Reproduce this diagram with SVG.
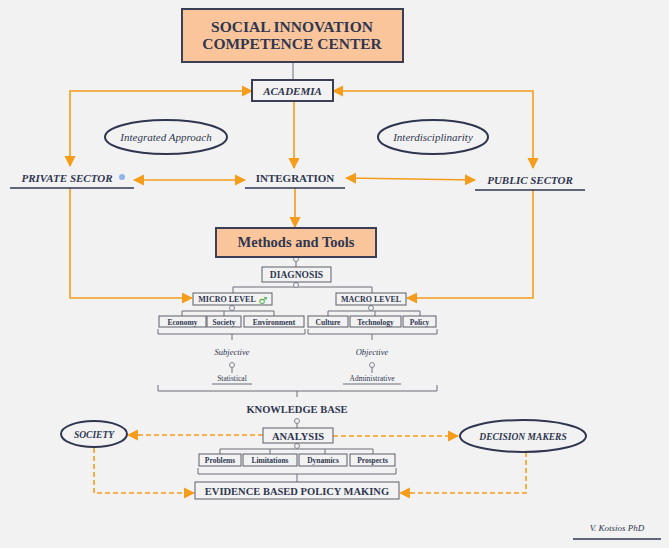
<svg xmlns="http://www.w3.org/2000/svg" width="669" height="548" viewBox="0 0 669 548">
<defs>
<marker id="a" viewBox="0 0 10 10" refX="9" refY="5" markerWidth="7" markerHeight="7" orient="auto-start-reverse"><path d="M0,0L10,5L0,10z" fill="#f59c1a"/></marker>
<style>
text{font-family:"Liberation Serif",serif;fill:#2f3650;text-anchor:middle}
.b{font-weight:bold}.i{font-style:italic}
.o{stroke:#f59c1a;stroke-width:1.6;fill:none}
.d{stroke:#f59c1a;stroke-width:1.6;fill:none;stroke-dasharray:5,3}
.g{stroke:#6b6f7a;stroke-width:1;fill:none}
.bx{fill:#f2f2f2;stroke:#5a5e6a;stroke-width:1}
.c{fill:#f2f2f2;stroke:#6b6f7a;stroke-width:0.8}
.ul{stroke:#2f3650;stroke-width:1.6}
</style>
</defs>
<rect width="669" height="548" fill="#f2f2f2"/>
<g id="connectors">
<line class="g" x1="293" y1="62" x2="293" y2="80"/>
<path class="o" d="M252,91H70V166" marker-start="url(#a)" marker-end="url(#a)"/>
<path class="o" d="M333,91H533V168" marker-start="url(#a)" marker-end="url(#a)"/>
<path class="o" d="M294,101V168" marker-end="url(#a)"/>
<path class="o" d="M134,180H245" marker-start="url(#a)" marker-end="url(#a)"/>
<path class="o" d="M346,178L475,180" marker-start="url(#a)" marker-end="url(#a)"/>
<path class="o" d="M295,188V227" marker-end="url(#a)"/>
<path class="o" d="M70,188V298H192" marker-end="url(#a)"/>
<path class="o" d="M533,190V298H407" marker-end="url(#a)"/>
<path class="g" d="M296,257V267M296,282V287M233,293V287H372V293"/>
<path class="g" d="M232,305V311M182,316V311H274V316M224,311V316"/>
<path class="g" d="M371,305V311M328,316V311H420V316M375,311V316"/>
<path class="g" d="M158,329V334H305V329M232,334V340M308,329V334H437V329M372,334V340"/>
<path class="g" d="M232,365V373M372,365V373"/>
<path class="g" d="M158,385V391H437V385M297,391V397"/>
<path class="g" d="M297,421V428M297,443V449M220,454V449H373V454M270,449V454M325,449V454"/>
<path class="g" d="M198,468V474H396V468M297,474V482"/>
<path class="d" d="M263,435H128" marker-end="url(#a)"/>
<path class="d" d="M333,436H458" marker-end="url(#a)"/>
<path class="d" d="M94,448V493H194" marker-end="url(#a)"/>
<path class="d" d="M526,452V493H400" marker-end="url(#a)"/>
<circle class="c" cx="296" cy="259" r="2.5"/><circle class="c" cx="296" cy="285" r="2.5"/>
<circle class="c" cx="232" cy="308" r="2.5"/><circle class="c" cx="371" cy="308" r="2.5"/>
<circle class="c" cx="232" cy="365" r="2.5"/><circle class="c" cx="372" cy="365" r="2.5"/>
<circle class="c" cx="297" cy="421" r="2.5"/><circle class="c" cx="297" cy="446" r="2.5"/>
</g>
<g id="title"><rect x="182" y="9" width="221" height="53" fill="#fbc59b" stroke="#3a3f55" stroke-width="2"/>
<text x="292" y="32" class="b" font-size="15.500">SOCIAL INNOVATION</text><text x="292" y="49" class="b" font-size="15.500">COMPETENCE CENTER</text></g>
<g id="academia"><rect x="252" y="80" width="81" height="21" fill="#f2f2f2" stroke="#3a3f55" stroke-width="2"/><text x="292.500" y="95" class="b i" font-size="11">ACADEMIA</text></g>
<g id="integrated"><ellipse cx="166" cy="137" rx="61" ry="17" fill="none" stroke="#2f3650" stroke-width="2"/><text x="166" y="141" class="i" font-size="11">Integrated Approach</text></g>
<g id="interdisc"><ellipse cx="433" cy="137" rx="55" ry="17" fill="none" stroke="#2f3650" stroke-width="2"/><text x="433" y="141" class="i" font-size="11">Interdisciplinarity</text></g>
<g id="private"><text x="67" y="182" class="b i" font-size="11">PRIVATE SECTOR</text><circle cx="122" cy="177" r="3" fill="#8fb4e8"/><line class="ul" x1="10" y1="188" x2="134" y2="188"/></g>
<g id="integration"><text x="295" y="182" class="b" font-size="11">INTEGRATION</text><line class="ul" x1="245" y1="188" x2="345" y2="188"/></g>
<g id="public"><text x="530" y="184" class="b i" font-size="11">PUBLIC SECTOR</text><line class="ul" x1="475" y1="190" x2="585" y2="190"/></g>
<g id="methods"><rect x="216" y="228" width="160" height="29" fill="#fbc59b" stroke="#3a3f55" stroke-width="2"/><text x="296" y="247" class="b" font-size="14.500">Methods and Tools</text></g>
<g id="diagnosis"><rect class="bx" x="262" y="267" width="69" height="15"/><text x="296.500" y="278" class="b" font-size="9.500">DIAGNOSIS</text></g>
<g id="micro"><rect class="bx" x="193" y="293" width="79" height="12"/><text x="227" y="302" class="b" font-size="8">MICRO LEVEL</text><text x="263" y="303.500" font-size="10" style="fill:#3aaa35;font-family:'DejaVu Sans',sans-serif">♂</text></g>
<g id="macro"><rect class="bx" x="336" y="293" width="70" height="12"/><text x="371" y="302" class="b" font-size="8">MACRO LEVEL</text></g>
<g id="economy"><rect class="bx" x="159" y="316" width="47" height="11"/><text x="182.500" y="324.500" class="b" font-size="7.500">Economy</text></g>
<g id="society-d"><rect class="bx" x="207" y="316" width="34" height="11"/><text x="224" y="324.500" class="b" font-size="7.500">Society</text></g>
<g id="environment"><rect class="bx" x="244" y="316" width="60" height="11"/><text x="274" y="324.500" class="b" font-size="7.500">Environment</text></g>
<g id="culture"><rect class="bx" x="308" y="316" width="40" height="11"/><text x="328" y="324.500" class="b" font-size="7.500">Culture</text></g>
<g id="technology"><rect class="bx" x="350" y="316" width="51" height="11"/><text x="375.500" y="324.500" class="b" font-size="7.500">Technology</text></g>
<g id="policy"><rect class="bx" x="403" y="316" width="33" height="11"/><text x="419.500" y="324.500" class="b" font-size="7.500">Policy</text></g>
<g id="subjective"><text x="232" y="355" class="i" font-size="8.500">Subjective</text><text x="232" y="381" font-size="7.500">Statistical</text><line class="g" x1="212" y1="384" x2="252" y2="384"/></g>
<g id="objective"><text x="372" y="355" class="i" font-size="8.500">Objective</text><text x="372" y="381" font-size="7.500">Administrative</text><line class="g" x1="343" y1="384" x2="401" y2="384"/></g>
<g id="kb"><text x="297" y="413" class="b" font-size="10.500">KNOWLEDGE BASE</text></g>
<g id="analysis"><rect class="bx" x="263" y="428" width="70" height="15"/><text x="298" y="439.500" class="b" font-size="10.500">ANALYSIS</text></g>
<g id="society"><ellipse cx="94" cy="434" rx="33" ry="13" fill="none" stroke="#2f3650" stroke-width="2"/><text x="94" y="437.500" class="b i" font-size="9.500">SOCIETY</text></g>
<g id="decision"><ellipse cx="523" cy="436" rx="63" ry="16" fill="none" stroke="#2f3650" stroke-width="2"/><text x="523" y="439.500" class="b i" font-size="9.500">DECISION MAKERS</text></g>
<g id="problems"><rect class="bx" x="199" y="454" width="42" height="12"/><text x="220" y="462.500" class="b" font-size="7.500">Problems</text></g>
<g id="limitations"><rect class="bx" x="243" y="454" width="54" height="12"/><text x="270" y="462.500" class="b" font-size="7.500">Limitations</text></g>
<g id="dynamics"><rect class="bx" x="299" y="454" width="48" height="12"/><text x="323" y="462.500" class="b" font-size="7.500">Dynamics</text></g>
<g id="prospects"><rect class="bx" x="350" y="454" width="45" height="12"/><text x="372.500" y="462.500" class="b" font-size="7.500">Prospects</text></g>
<g id="ebpm"><rect class="bx" x="195" y="482" width="204" height="17"/><text x="297" y="494.500" class="b" font-size="10.500">EVIDENCE BASED POLICY MAKING</text></g>
<g id="author"><text x="617" y="531" class="i" font-size="9">V. Kotsios PhD</text><line class="ul" x1="573" y1="539" x2="661" y2="539"/></g>
</svg>
